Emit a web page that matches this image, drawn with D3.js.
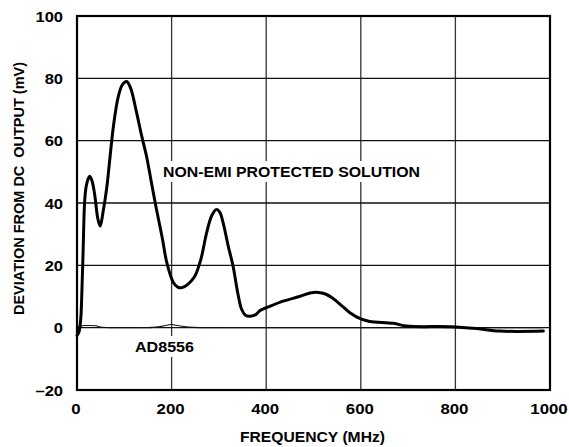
<!DOCTYPE html>
<html><head><meta charset="utf-8">
<script src="https://cdn.jsdelivr.net/npm/d3@7"></script>
<style>body{margin:0;background:#fff}svg{display:block}text{font-family:"Liberation Sans",Arial,sans-serif;font-weight:bold;fill:#000}</style>
</head><body>
<script>
const xTicks = [0, 200, 400, 600, 800, 1000];
const yTicks = [-20, 0, 20, 40, 60, 80, 100];
const yTickLabels = ["\u201320", "0", "20", "40", "60", "80", "100"];
const nonEmiFreq = [0,4,8,10,13,16,19,23,27,32,38,44,49,55,63,70,77,87,96,105,113,126,136,147,158,168,180,190,204,213,221,235,249,262,274,285,295,302,309,320,330,340,348,356,366,378,387,410,436,470,495,510,525,540,560,577,600,619,669,697,789,845,894,986];
const nonEmiMv = [-2.5,-1.5,3,10,25,40,45,47.5,48.6,47,42,35,32.6,37,45,55,64.6,74,78,79,77,69,62,55,46,38,29,20.8,14.4,13,12.8,14,16.5,22,30.4,36,37.9,37,33.6,26,19.7,11,5.9,4,3.7,4.2,5.5,7,8.5,10,11.2,11.3,10.8,9.5,7,4.8,2.8,2,1.4,0.5,0.3,-0.3,-1.1,-1.1];
const adFreq = [0,4,10,20,40,50,70,120,160,180,200,215,235,260,320,500,700,900,986];
const adMv = [-2.5,0.3,0.6,0.7,0.6,0.2,0,0,0.1,0.5,1,0.6,0.2,0,0,0,0,0,0];
const labels = {x: "FREQUENCY (MHz)", y: "DEVIATION FROM DC  OUTPUT (mV)", series1: "NON-EMI PROTECTED SOLUTION", series2: "AD8556"};

const W = 569, H = 447;
const m = {left: 77, top: 16, right: 19, bottom: 57};
const iw = W - m.left - m.right, ih = H - m.top - m.bottom;
const svg = d3.select("body").append("svg").attr("width", W).attr("height", H);
const g = svg.append("g").attr("transform", `translate(${m.left},${m.top})`);
const x = d3.scaleLinear().domain([0, 1000]).range([0, iw]);
const y = d3.scaleLinear().domain([-20, 100]).range([ih, 0]);

// grid
g.append("g").selectAll("line").data(xTicks.slice(1, -1)).join("line")
  .attr("x1", d => x(d)).attr("x2", d => x(d)).attr("y1", 0).attr("y2", ih)
  .attr("stroke", "#333").attr("stroke-width", 1.3);
g.append("g").selectAll("line").data(yTicks.slice(1, -1)).join("line")
  .attr("x1", 0).attr("x2", iw).attr("y1", d => y(d)).attr("y2", d => y(d))
  .attr("stroke", "#111").attr("stroke-width", 1.3);

function stretch(sel, f) {
  sel.each(function () {
    const n = this.getComputedTextLength();
    d3.select(this).attr("textLength", n * f).attr("lengthAdjust", "spacingAndGlyphs");
  });
}

// axes (labels only)
const xa = g.append("g").attr("transform", `translate(0,${ih})`)
  .call(d3.axisBottom(x).tickValues(xTicks).tickSize(0).tickPadding(0).tickFormat(d3.format("d")));
xa.select(".domain").remove();
xa.selectAll("text").attr("font-size", 14).attr("dy", 0).attr("y", 24).attr("dx", -1.5)
  .style("font-family", '"Liberation Sans",Arial,sans-serif').style("font-weight", "bold").call(stretch, 1.2);
const ya = g.append("g")
  .call(d3.axisLeft(y).tickValues(yTicks).tickSize(0).tickPadding(14).tickFormat((d, i) => yTickLabels[i]));
ya.select(".domain").remove();
ya.selectAll("text").attr("font-size", 14).attr("dy", "0.36em")
  .style("font-family", '"Liberation Sans",Arial,sans-serif').style("font-weight", "bold").call(stretch, 1.18);

// label backgrounds & labels
function boxLabel(text, xx, yy, len, pad) {
  g.append("rect").attr("x", xx - pad).attr("y", yy - 16).attr("width", len + 2 * pad).attr("height", 21).attr("fill", "#fff");
  g.append("text").attr("x", xx).attr("y", yy).attr("font-size", 14).text(text)
    .attr("textLength", len).attr("lengthAdjust", "spacingAndGlyphs");
}
boxLabel(labels.series1, 163 - m.left, 177 - m.top, 257, 3);
boxLabel(labels.series2, 135 - m.left, 352 - m.top, 59, 3);

// lines
const line = d3.line().x(d => x(d[0])).y(d => y(d[1])).curve(d3.curveCatmullRom.alpha(0.5));
g.append("path").datum(d3.zip(adFreq, adMv)).attr("d", line)
  .attr("fill", "none").attr("stroke", "#111").attr("stroke-width", 1.1);
g.append("path").datum(d3.zip(nonEmiFreq, nonEmiMv)).attr("d", line)
  .attr("fill", "none").attr("stroke", "#000").attr("stroke-width", 3).attr("stroke-linejoin", "round").attr("stroke-linecap", "round");

// frame
g.append("rect").attr("width", iw).attr("height", ih).attr("fill", "none").attr("stroke", "#000").attr("stroke-width", 2.2);

// axis titles
svg.append("text").attr("x", 312.5).attr("y", 442).attr("text-anchor", "middle").attr("font-size", 14)
  .attr("textLength", 145).attr("lengthAdjust", "spacingAndGlyphs").text(labels.x);
svg.append("text").attr("transform", "translate(24,188.5) rotate(-90)").attr("text-anchor", "middle").attr("font-size", 14)
  .attr("textLength", 253).attr("lengthAdjust", "spacingAndGlyphs").style("white-space", "pre").text(labels.y);
</script>
</body></html>
